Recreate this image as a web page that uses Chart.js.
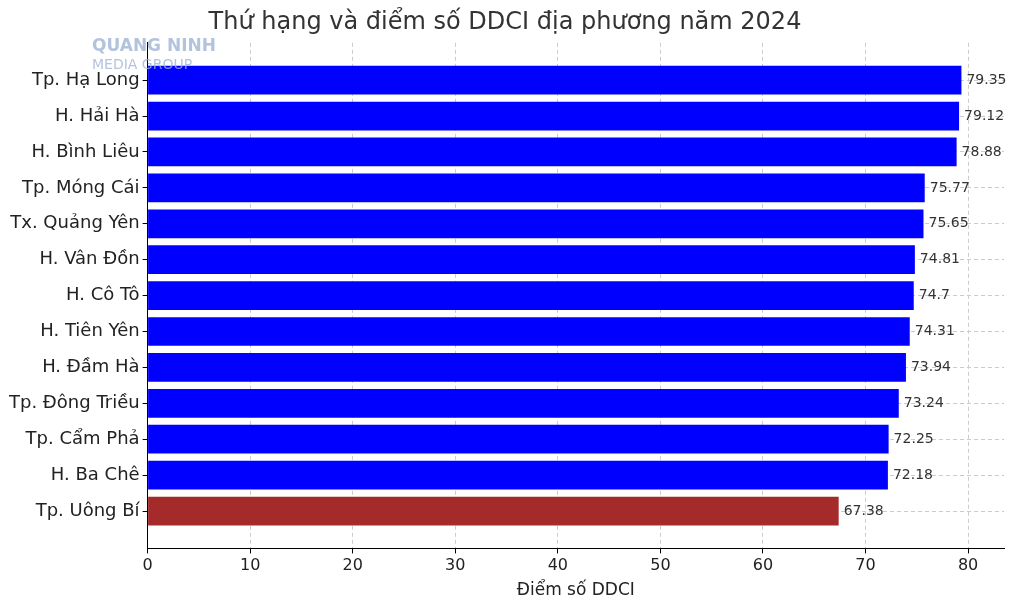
<!DOCTYPE html>
<html><head><meta charset="utf-8">
<script src="https://cdn.jsdelivr.net/npm/chart.js@4"></script>
<style>html,body{margin:0;padding:0;background:#fff}#w{width:1022px;height:609px;position:relative}</style>
</head><body><div id="w"><canvas id="c"></canvas>
<div style="position:absolute;left:92px;top:36px;font:bold 17px 'DejaVu Sans';color:#9fb4d6;line-height:18px;opacity:0.8">QUANG NINH<br><span style="font-weight:normal;font-size:14px">MEDIA GROUP</span></div>
</div>
<script>
const categories=["Tp. Hạ Long","H. Hải Hà","H. Bình Liêu","Tp. Móng Cái","Tx. Quảng Yên","H. Vân Đồn","H. Cô Tô","H. Tiên Yên","H. Đầm Hà","Tp. Đông Triều","Tp. Cẩm Phả","H. Ba Chê","Tp. Uông Bí"];
const values=[79.35,79.12,78.88,75.77,75.65,74.81,74.7,74.31,73.94,73.24,72.25,72.18,67.38];
const labels=["79.35","79.12","78.88","75.77","75.65","74.81","74.7","74.31","73.94","73.24","72.25","72.18","67.38"];
const xTicks=[0,10,20,30,40,50,60,70,80];
const colors=values.map((v,i)=>i===values.length-1?"#a52a2a":"#0000ff");
const lbl={id:"lbl",afterDatasetsDraw(ch){const c=ch.ctx;const m=ch.getDatasetMeta(0);c.save();c.font="14px 'DejaVu Sans'";c.fillStyle="#333";c.textBaseline="middle";m.data.forEach((b,i)=>c.fillText(labels[i],b.x+5,b.y));c.restore();}};
new Chart(document.getElementById("c"),{type:"bar",data:{datasets:[{data:values.map((v,i)=>({x:v,y:i})),backgroundColor:colors,barPercentage:0.8,categoryPercentage:1}]},
options:{indexAxis:"y",responsive:true,maintainAspectRatio:false,animation:false,
layout:{padding:{left:6,right:18,top:0,bottom:4}},
plugins:{legend:{display:false},tooltip:{enabled:false},title:{display:true,text:"Thứ hạng và điểm số DDCI địa phương năm 2024",font:{family:"DejaVu Sans",size:24,weight:"normal"},color:"#333",padding:{top:8,bottom:6}}},
scales:{x:{type:"linear",min:0,max:83.5,afterBuildTicks:a=>{a.ticks=xTicks.map(v=>({value:v}))},ticks:{font:{family:"DejaVu Sans",size:16},color:"#222"},grid:{color:"#ccc",tickColor:"#000",tickLength:5},border:{color:"#000",dash:[4,3]},title:{display:true,text:"Điểm số DDCI",font:{family:"DejaVu Sans",size:17},color:"#222",padding:{top:2}}},
y:{type:"linear",reverse:true,offset:false,min:-1.04,max:categories.length-1+1.04,afterBuildTicks:s=>{s.ticks=categories.map((c,i)=>({value:i}))},ticks:{autoSkip:false,callback:v=>categories[v],font:{family:"DejaVu Sans",size:18},color:"#222"},grid:{offset:false,color:"#ccc",tickColor:"#000",tickLength:5},border:{color:"#000",dash:[4,3]}}}},plugins:[lbl]});
</script></body></html>
